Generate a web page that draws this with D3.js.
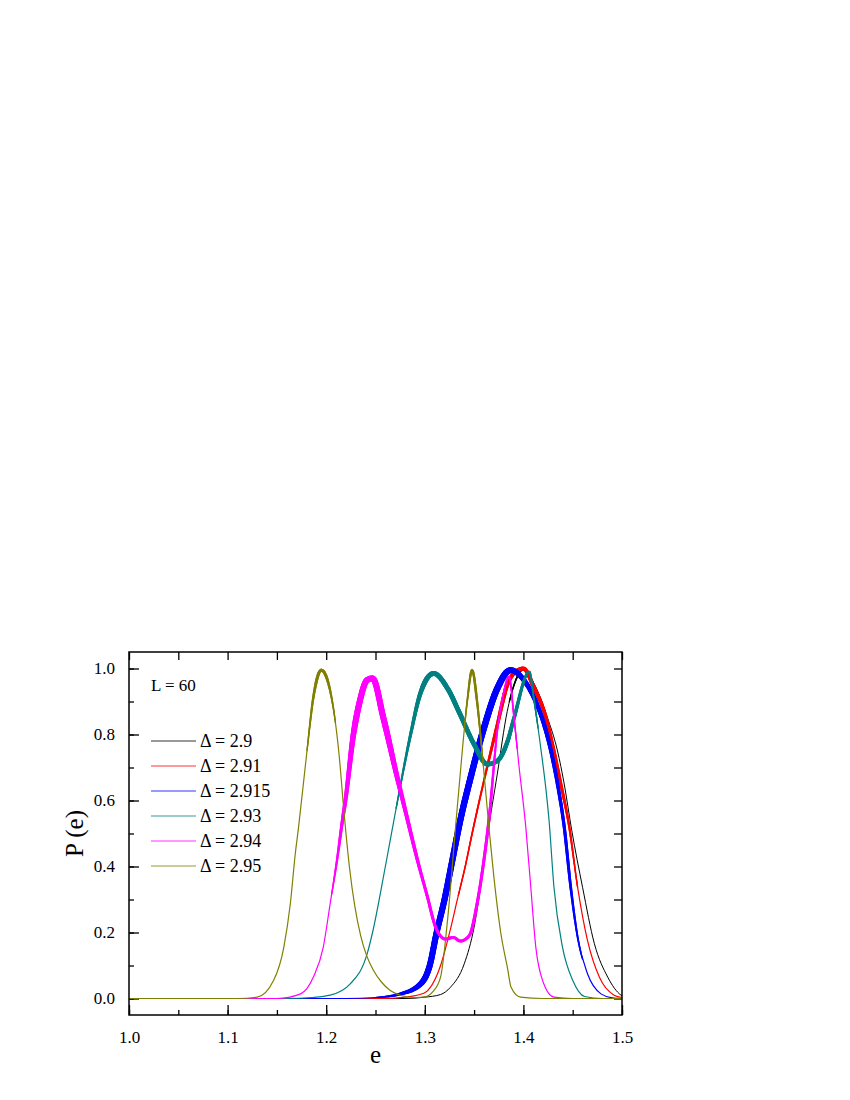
<!DOCTYPE html>
<html>
<head>
<meta charset="utf-8">
<script src="https://cdn.jsdelivr.net/npm/d3@7"></script>
<style>
  body { margin: 0; background: #fff; }
</style>
</head>
<body>
<svg id="chart"></svg>
<script>
// energy distributions P(e), L = 60
const deltas = ['2.9', '2.91', '2.915', '2.93', '2.94', '2.95'];
const colors = ['#000000', '#ff0000', '#0000ff', '#008080', '#ff00ff', '#808000'];

const p2900 = [[1.0, 0], [1.28, 0], [1.30, 0.004], [1.316, 0.012], [1.326, 0.034], [1.34, 0.105],
  [1.35, 0.216], [1.3585, 0.378], [1.3635, 0.49], [1.3735, 0.68], [1.3836, 0.87], [1.3905, 0.95],
  [1.400, 0.997], [1.411, 0.95], [1.4245, 0.85], [1.4346, 0.75], [1.4414, 0.65], [1.449, 0.51],
  [1.46, 0.337], [1.472, 0.166], [1.4855, 0.065], [1.499, 0.01], [1.5, 0.008]];

const p2910 = [[1.0, 0], [1.26, 0], [1.28, 0.004], [1.299, 0.016], [1.316, 0.10], [1.326, 0.21],
  [1.333, 0.30], [1.341, 0.40], [1.348, 0.50], [1.36, 0.66], [1.3736, 0.83], [1.3836, 0.95],
  [1.392, 0.99], [1.40, 1.0], [1.411, 0.94], [1.421, 0.87], [1.431, 0.75], [1.438, 0.65],
  [1.4465, 0.52], [1.455, 0.337], [1.465, 0.176], [1.477, 0.065], [1.492, 0.01], [1.5, 0.003]];

const p2915 = [[1.0, 0], [1.22, 0], [1.25, 0.003], [1.2754, 0.014], [1.296, 0.045], [1.305, 0.10],
  [1.312, 0.20], [1.320, 0.30], [1.328, 0.42], [1.336, 0.54], [1.3465, 0.67], [1.36, 0.82],
  [1.3736, 0.94], [1.387, 0.995], [1.4007, 0.964], [1.411, 0.91], [1.421, 0.83], [1.428, 0.75],
  [1.4346, 0.65], [1.4414, 0.52], [1.448, 0.337], [1.455, 0.186], [1.465, 0.075], [1.4787, 0.014],
  [1.49, 0.002], [1.5, 0]];

const p2930 = [[1.0, 0], [1.16, 0], [1.185, 0.003], [1.204, 0.01], [1.2246, 0.045], [1.2415, 0.135],
  [1.247, 0.2], [1.260, 0.4], [1.2724, 0.6], [1.2856, 0.8], [1.295, 0.92], [1.309, 0.985],
  [1.323, 0.94], [1.336, 0.86], [1.350, 0.77], [1.3635, 0.71], [1.3735, 0.72], [1.384, 0.78],
  [1.3905, 0.85], [1.406, 0.99], [1.411, 0.90], [1.418, 0.75], [1.423, 0.63], [1.426, 0.54],
  [1.431, 0.337], [1.4397, 0.155], [1.45, 0.055], [1.462, 0.006], [1.48, 0], [1.5, 0]];

const p2940 = [[1.0, 0], [1.15, 0], [1.174, 0.014], [1.187, 0.065], [1.197, 0.155], [1.204, 0.287],
  [1.211, 0.42], [1.2165, 0.54], [1.2195, 0.6], [1.2276, 0.8], [1.234, 0.9], [1.2415, 0.965],
  [1.247, 0.97], [1.258, 0.85], [1.272, 0.67], [1.281, 0.56], [1.2925, 0.42], [1.3025, 0.31],
  [1.311, 0.216], [1.321, 0.18], [1.329, 0.185], [1.336, 0.174], [1.345, 0.19], [1.353, 0.287],
  [1.36, 0.42], [1.365, 0.54], [1.3735, 0.81], [1.3788, 0.91], [1.3855, 0.975], [1.3905, 0.85],
  [1.3957, 0.70], [1.4024, 0.52], [1.4075, 0.337], [1.4126, 0.155], [1.4194, 0.055], [1.431, 0.004],
  [1.45, 0], [1.5, 0]];

const p2950 = [[1.0, 0], [1.11, 0], [1.13, 0.004], [1.1467, 0.055], [1.157, 0.155], [1.1636, 0.287],
  [1.1687, 0.44], [1.172, 0.52], [1.1805, 0.75], [1.187, 0.913], [1.195, 0.995], [1.204, 0.933],
  [1.2127, 0.75], [1.2185, 0.55], [1.2235, 0.40], [1.229, 0.28], [1.235, 0.19], [1.241, 0.13],
  [1.248, 0.085], [1.256, 0.05], [1.265, 0.024], [1.275, 0.01], [1.29, 0.003], [1.30, 0.005],
  [1.308, 0.02], [1.316, 0.065], [1.323, 0.236], [1.3315, 0.53], [1.338, 0.75], [1.343, 0.90],
  [1.348, 0.995], [1.353, 0.90], [1.358, 0.75], [1.365, 0.52], [1.37, 0.37], [1.377, 0.2],
  [1.384, 0.09], [1.3875, 0.034], [1.397, 0.004], [1.42, 0], [1.5, 0]];

const series = [p2900, p2910, p2915, p2930, p2940, p2950];

// apparent thickness of each histogram from its scatter: [e, px]
const spread = [
  [[1.38, 1], [1.395, 1.8], [1.41, 1.8], [1.425, 1]],
  [[1.33, 1.2], [1.36, 2], [1.38, 4], [1.41, 4], [1.44, 3], [1.455, 1.3]],
  [[1.25, 1.2], [1.275, 3], [1.30, 6], [1.38, 6.5], [1.40, 5], [1.425, 4], [1.445, 3], [1.46, 1.3]],
  [[1.27, 1.2], [1.285, 3], [1.30, 5], [1.38, 4.5], [1.40, 3], [1.415, 1.3]],
  [[1.205, 1.2], [1.215, 3], [1.23, 6], [1.26, 6], [1.28, 4], [1.30, 3], [1.365, 3], [1.375, 1.5],
    [1.385, 2], [1.395, 1.2]],
  [[1.18, 1.2], [1.19, 3], [1.20, 3], [1.21, 1.2], [1.34, 1.2], [1.347, 2.5], [1.352, 2.5], [1.36, 1.2]]
];

const xTicks = [1.0, 1.1, 1.2, 1.3, 1.4, 1.5];
const yTicks = [0.0, 0.2, 0.4, 0.6, 0.8, 1.0];

const serif = '"Liberation Serif", "Times New Roman", Times, Tinos, "DejaVu Serif", serif';

const width = 850, height = 1100;
const margin = { left: 129, right: 228, top: 652, bottom: 85 };
const w = width - margin.left - margin.right;
const h = height - margin.top - margin.bottom;

const svg = d3.select('#chart')
  .attr('width', width)
  .attr('height', height);

const chart = svg.append('g')
  .attr('transform', `translate(${margin.left},${margin.top})`);

const xScale = d3.scaleLinear().domain([1.0, 1.5]).range([0, w]);
const yScale = d3.scaleLinear().domain([-0.05, 1.05]).range([h, 0]);

chart.append('clipPath').attr('id', 'plot-clip')
  .append('rect').attr('width', w).attr('height', h);

// axes, ticks pointing inward
const fmt = d3.format('.1f');
const minorX = d3.range(1.0, 1.5001, 0.05);
const minorY = d3.range(0.0, 1.0001, 0.1);

const xAxisG = chart.append('g').attr('transform', `translate(0,${h})`);
xAxisG.call(d3.axisBottom(xScale).tickValues(minorX).tickSize(-5).tickFormat(''));
xAxisG.append('g').call(d3.axisBottom(xScale).tickValues(xTicks).tickSize(-10).tickPadding(16).tickFormat(fmt));

const yAxisG = chart.append('g');
yAxisG.call(d3.axisLeft(yScale).tickValues(minorY).tickSize(-5).tickFormat(''));
yAxisG.append('g').call(d3.axisLeft(yScale).tickValues(yTicks).tickSize(-10).tickPadding(14).tickFormat(fmt));

chart.append('g').call(d3.axisTop(xScale).tickValues(minorX).tickSize(-8).tickFormat(''));
chart.append('g').attr('transform', `translate(${w},0)`)
  .call(d3.axisRight(yScale).tickValues(minorY).tickSize(-8).tickFormat(''));

chart.selectAll('.domain').remove();
chart.selectAll('.tick line').attr('stroke', '#000').attr('stroke-width', 1.3);
chart.selectAll('.tick text')
  .style('font-family', serif)
  .style('font-size', '17px')
  .attr('fill', '#000');

// curves
const line = d3.line()
  .x(d => xScale(d[0]))
  .y(d => yScale(d[1]))
  .curve(d3.curveMonotoneX);

const curves = chart.append('g').attr('clip-path', 'url(#plot-clip)');

series.forEach((pts, i) => {
  const path = curves.append('path')
    .datum(pts)
    .attr('d', line)
    .attr('fill', 'none')
    .attr('stroke', colors[i])
    .attr('stroke-width', i === 0 ? 1 : 1.2);

  // thicker, tapering overlay where the histogram is noisy
  const thick = d3.scaleLinear()
    .domain(spread[i].map(d => d[0]))
    .range(spread[i].map(d => d[1]))
    .clamp(true);
  const node = path.node();
  const len = node.getTotalLength();
  const g = curves.append('g')
    .attr('stroke', colors[i])
    .attr('stroke-linecap', 'round');
  let prev = node.getPointAtLength(0);
  for (let l = 1.5; l <= len; l += 1.5) {
    const p = node.getPointAtLength(l);
    const sw = thick(xScale.invert((p.x + prev.x) / 2));
    if (sw > 1.3) {
      g.append('line')
        .attr('x1', prev.x).attr('y1', prev.y)
        .attr('x2', p.x).attr('y2', p.y)
        .attr('stroke-width', sw);
    }
    prev = p;
  }
});

// frame
chart.append('rect')
  .attr('width', w)
  .attr('height', h)
  .attr('fill', 'none')
  .attr('stroke', '#000')
  .attr('stroke-width', 1.5);

// axis titles
svg.append('text')
  .attr('x', margin.left + w / 2)
  .attr('y', 1063)
  .attr('text-anchor', 'middle')
  .style('font-family', serif)
  .style('font-size', '25px')
  .text('e');

svg.append('text')
  .attr('transform', `translate(83,${margin.top + h / 2}) rotate(-90)`)
  .attr('text-anchor', 'middle')
  .style('font-family', serif)
  .style('font-size', '25px')
  .text('P (e)');

// legend
const legend = chart.append('g').attr('transform', 'translate(22,0)');

legend.append('text')
  .attr('x', 0)
  .attr('y', 39)
  .style('font-family', serif)
  .style('font-size', '17px')
  .text('L = 60');

const items = legend.selectAll('.item')
  .data(deltas)
  .enter().append('g')
  .attr('class', 'item')
  .attr('transform', (d, i) => `translate(0,${89 + i * 25})`);

items.append('line')
  .attr('x1', 0).attr('x2', 45)
  .attr('stroke', (d, i) => colors[i])
  .attr('stroke-opacity', 0.8)
  .attr('stroke-width', 1);

items.append('text')
  .attr('x', 49)
  .attr('dy', '0.35em')
  .style('font-family', serif)
  .style('font-size', '18px')
  .text(d => `Δ = ${d}`);
</script>
</body>
</html>
